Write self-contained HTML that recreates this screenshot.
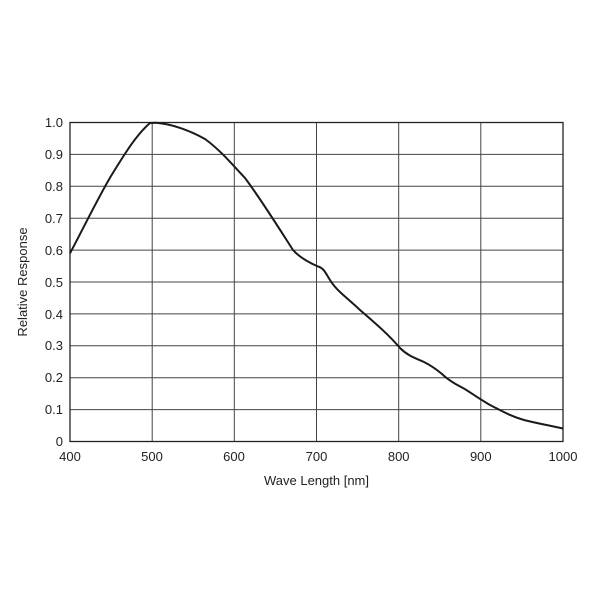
<!DOCTYPE html>
<html><head><style>
body{margin:0;background:#fff;}
text{font-family:"Liberation Sans",Arial,sans-serif;font-size:13px;fill:#222;}
</style></head><body>
<svg width="600" height="600" xmlns="http://www.w3.org/2000/svg">
<g stroke="#444" stroke-width="1">
<line x1="70" x2="563" y1="154.4" y2="154.4"/>
<line x1="70" x2="563" y1="186.3" y2="186.3"/>
<line x1="70" x2="563" y1="218.2" y2="218.2"/>
<line x1="70" x2="563" y1="250.1" y2="250.1"/>
<line x1="70" x2="563" y1="282" y2="282"/>
<line x1="70" x2="563" y1="313.9" y2="313.9"/>
<line x1="70" x2="563" y1="345.8" y2="345.8"/>
<line x1="70" x2="563" y1="377.7" y2="377.7"/>
<line x1="70" x2="563" y1="409.6" y2="409.6"/>
<line x1="152.2" x2="152.2" y1="122.5" y2="441.5"/>
<line x1="234.3" x2="234.3" y1="122.5" y2="441.5"/>
<line x1="316.5" x2="316.5" y1="122.5" y2="441.5"/>
<line x1="398.7" x2="398.7" y1="122.5" y2="441.5"/>
<line x1="480.8" x2="480.8" y1="122.5" y2="441.5"/>
</g>
<rect x="70" y="122.5" width="493" height="319" fill="none" stroke="#222" stroke-width="1.3"/>
<path d="M70,253.3 C85,225 98,198 111,176 C124,155 136,135 150,123 L156,122.8 C170,124 185,128 205,139 C220,150 230,162 245,178 C260,198 275,222 293,250 C300,258 310,263 318,266.5 C324,268 326,274 330,280 C336,290 345,296 360,310 C375,323 388,334 400,348 C408,356 415,358 424,362 C432,366 436,369 442,374 C448,380 455,384 463,388 C470,392 478,398 490,405 C500,410 510,416 524,420 C540,424 552,426 563,428.5" fill="none" stroke="#1a1a1a" stroke-width="2"/>
<g text-anchor="end">
<text x="63" y="127">1.0</text><text x="63" y="159">0.9</text><text x="63" y="191">0.8</text>
<text x="63" y="223">0.7</text><text x="63" y="255">0.6</text><text x="63" y="287">0.5</text>
<text x="63" y="319">0.4</text><text x="63" y="350">0.3</text><text x="63" y="382">0.2</text>
<text x="63" y="414">0.1</text><text x="63" y="446">0</text>
</g>
<g text-anchor="middle">
<text x="70" y="461">400</text><text x="152" y="461">500</text><text x="234" y="461">600</text>
<text x="316.5" y="461">700</text><text x="398.7" y="461">800</text><text x="480.8" y="461">900</text>
<text x="563" y="461">1000</text>
<text x="316.5" y="485">Wave Length [nm]</text>
<text transform="translate(27,282) rotate(-90)">Relative Response</text>
</g>
</svg>
</body></html>
